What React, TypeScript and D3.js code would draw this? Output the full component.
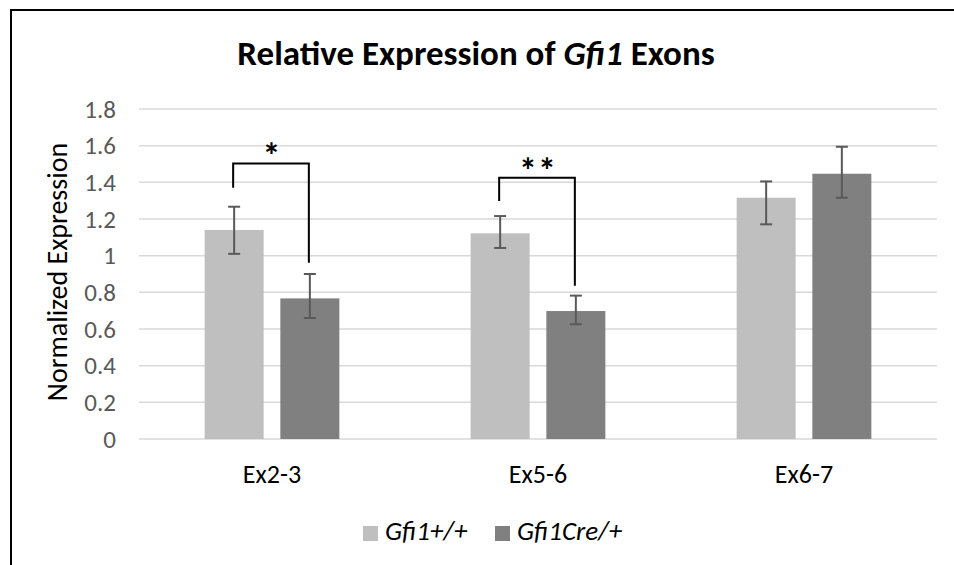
import React from "react";
import * as d3 from "d3";

const categories = ["Ex2-3", "Ex5-6", "Ex6-7"];
const seriesNames = ["Gfi1+/+", "Gfi1Cre/+"];
const wildType = [1.14, 1.122, 1.316];
const creType = [0.767, 0.698, 1.447];
const wildErrUp = [0.127, 0.094, 0.089];
const wildErrDown = [0.13, 0.08, 0.145];
const creErrUp = [0.133, 0.084, 0.147];
const creErrDown = [0.107, 0.072, 0.131];
const yTicks = [0, 0.2, 0.4, 0.6, 0.8, 1, 1.2, 1.4, 1.6, 1.8];
// significance brackets: category index, top, left-bottom, right-bottom, label
const bracketCat = [0, 1];
const bracketTop = [1.503, 1.425];
const bracketLeftBottom = [1.371, 1.298];
const bracketRightBottom = [0.962, 0.836];
const bracketLabel = ["*", "**"];

const colors = ["#BFBFBF", "#808080"];
const W = 954;
const H = 565;
const FONT = "Carlito, Calibri, 'Liberation Sans', Arial, sans-serif";

export default function App() {
  const plotLeft = 139;
  const plotRight = 937;
  const y = d3.scaleLinear().domain([0, 1.8]).range([439, 109]);
  const x0 = d3.scaleBand().domain(categories).range([plotLeft, plotRight]).paddingInner(0).paddingOuter(0);
  const barW = 59;
  const gap = 16.7;
  const barX = (ci: number, si: number) => {
    const c = (x0(categories[ci]) as number) + x0.bandwidth() / 2;
    return si === 0 ? c - gap / 2 - barW : c + gap / 2;
  };
  const series = [wildType, creType];
  const ups = [wildErrUp, creErrUp];
  const downs = [wildErrDown, creErrDown];
  const capW = 12;

  return (
    <svg width={W} height={H} style={{ position: "absolute", left: 0, top: 0, background: "#fff" }} fontFamily={FONT}>
      <rect x={0} y={0} width={W} height={H} fill="#fff" />
      {/* frame */}
      <line x1={10} y1={10} x2={W} y2={10} stroke="#000" strokeWidth={2} />
      <line x1={11} y1={9} x2={11} y2={H} stroke="#000" strokeWidth={2} />
      {/* title */}
      <text x={476} y={65} textAnchor="middle" fontSize={35} fontWeight="bold" fill="#000">
        Relative Expression of <tspan fontStyle="italic">Gfi1</tspan> Exons
      </text>
      {/* gridlines */}
      {yTicks.map((t) => (
        <line key={t} x1={plotLeft} x2={plotRight} y1={y(t)} y2={y(t)} stroke="#D9D9D9" strokeWidth={1.5} />
      ))}
      {/* tick labels */}
      {yTicks.map((t) => (
        <text key={"l" + t} x={116} y={y(t)} dy="0.35em" textAnchor="end" fontSize={25} fill="#595959">
          {d3.format("~g")(t)}
        </text>
      ))}
      {/* axis title */}
      <text transform={`translate(67,272) rotate(-90)`} textAnchor="middle" fontSize={28} fill="#000">
        Normalized Expression
      </text>
      {/* bars */}
      {categories.map((c, ci) =>
        series.map((s, si) => (
          <rect key={c + si} x={barX(ci, si)} y={y(s[ci])} width={barW} height={y(0) - y(s[ci])} fill={colors[si]} />
        ))
      )}
      {/* error bars */}
      {categories.map((c, ci) =>
        series.map((s, si) => {
          const cx = barX(ci, si) + barW / 2;
          const yt = y(s[ci] + ups[si][ci]);
          const yb = y(s[ci] - downs[si][ci]);
          return (
            <g key={"e" + c + si} stroke="#595959" strokeWidth={2}>
              <line x1={cx} x2={cx} y1={yt} y2={yb} />
              <line x1={cx - capW / 2} x2={cx + capW / 2} y1={yt} y2={yt} />
              <line x1={cx - capW / 2} x2={cx + capW / 2} y1={yb} y2={yb} />
            </g>
          );
        })
      )}
      {/* significance brackets */}
      {bracketCat.map((ci, i) => {
        const xl = barX(ci, 0) + barW / 2 - 1;
        const xr = barX(ci, 1) + barW / 2 - 1;
        const yt = y(bracketTop[i]);
        return (
          <g key={"b" + i}>
            <path
              d={`M${xl},${y(bracketLeftBottom[i])}V${yt}H${xr}V${y(bracketRightBottom[i])}`}
              fill="none"
              stroke="#000"
              strokeWidth={2}
            />
            <text x={(xl + xr) / 2 + 1} y={yt + 5} textAnchor="middle" fontSize={36} fontWeight="bold" fill="#000" letterSpacing={1}>
              {bracketLabel[i]}
            </text>
          </g>
        );
      })}
      {/* category labels */}
      {categories.map((c) => (
        <text key={"c" + c} x={(x0(c) as number) + x0.bandwidth() / 2} y={483} textAnchor="middle" fontSize={26} fill="#000">
          {c}
        </text>
      ))}
      {/* legend */}
      {seriesNames.map((n, i) => {
        const lx = i === 0 ? 363 : 495;
        return (
          <g key={"lg" + n}>
            <rect x={lx} y={526} width={15} height={15} fill={colors[i]} />
            <text x={lx + 22} y={540} fontSize={27} fontStyle="italic" fill="#000">
              {n}
            </text>
          </g>
        );
      })}
    </svg>
  );
}
